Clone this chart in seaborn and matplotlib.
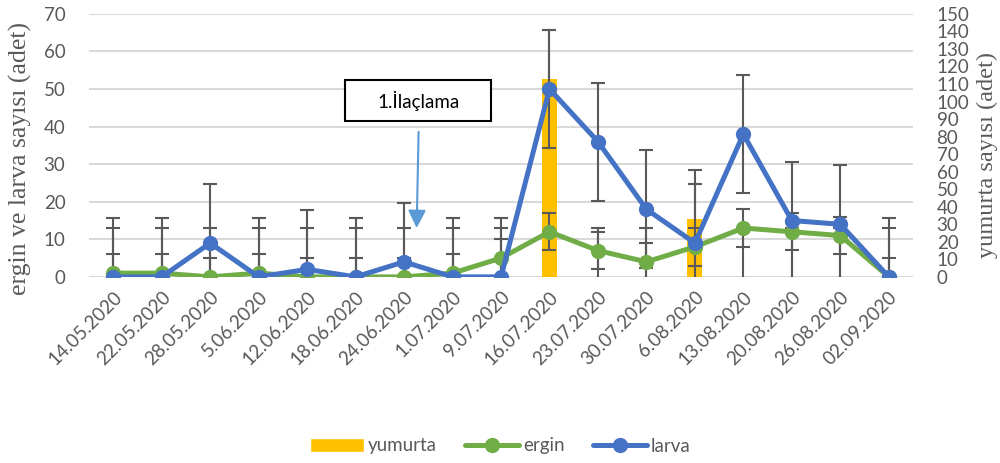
import numpy as np
import pandas as pd
import matplotlib
matplotlib.use("Agg")
import matplotlib.pyplot as plt
from matplotlib.lines import Line2D
from matplotlib.patches import Patch, Rectangle
import seaborn as sns

# Data
dates = ["14.05.2020", "22.05.2020", "28.05.2020", "5.06.2020", "12.06.2020",
         "18.06.2020", "24.06.2020", "1.07.2020", "9.07.2020", "16.07.2020",
         "23.07.2020", "30.07.2020", "6.08.2020", "13.08.2020", "20.08.2020",
         "26.08.2020", "02.09.2020"]
yumurta = [0, 0, 0, 0, 0, 0, 0, 0, 0, 113, 0, 0, 33, 0, 0, 0, 0]
ergin = [1, 1, 0, 1, 0, 0, 0, 1, 5, 12, 7, 4, 8, 13, 12, 11, 0]
larva = [0, 0, 9, 0, 2, 0, 4, 0, 0, 50, 36, 18, 9, 38, 15, 14, 0]

# Colours
GRAY = "#595959"
GRID = "#D9D9D9"
YELLOW = "#FFC000"
GREEN = "#70AD47"
BLUE = "#4472C4"
ARROW = "#5B9BD5"


def main():
    df = pd.DataFrame({"tarih": dates, "yumurta": yumurta,
                       "ergin": ergin, "larva": larva})
    df["pos"] = np.arange(len(df))
    n = len(df)

    # Excel "standard deviation" error bars: one amount per series
    sd = {c: df[c].std() for c in ["yumurta", "ergin", "larva"]}

    sns.set_theme(style="white")
    plt.rcParams["font.family"] = ["Lato", "DejaVu Sans"]

    fig, ax = plt.subplots(figsize=(10, 4.63), dpi=100)
    fig.subplots_adjust(left=0.089, right=0.913, top=0.970, bottom=0.402)

    ax_bar = ax.twinx()    # secondary axis: eggs
    ax_line = ax.twinx()   # on top: adults and larvae (primary scale)

    # --- bars (yumurta) ---
    sns.barplot(data=df, x="pos", y="yumurta", color=YELLOW, width=0.31,
                saturation=1, linewidth=0, errorbar=None, ax=ax_bar)
    eb = ax_bar.errorbar(df["pos"], df["yumurta"],
                         yerr=[np.zeros(n), np.full(n, sd["yumurta"])],
                         fmt="none", ecolor=GRAY, elinewidth=1.5,
                         capsize=4.7, capthick=1.5, zorder=3)
    eb[1][0].set_visible(False)  # plus-only error bar

    # --- lines (ergin, larva) ---
    for col in ["ergin", "larva"]:
        ax_line.errorbar(df["pos"], df[col], yerr=sd[col], fmt="none",
                         ecolor=GRAY, elinewidth=1.5, capsize=4.7,
                         capthick=1.5, zorder=1)
    for col, color in [("ergin", GREEN), ("larva", BLUE)]:
        sns.lineplot(data=df, x="pos", y=col, color=color, lw=3.6,
                     marker="o", markersize=11, markeredgewidth=0,
                     sort=False, ax=ax_line, zorder=3)

    # Axes / limits
    ax.set_xlim(-0.5, n - 0.5)
    ax.set_ylim(0, 70)
    ax_line.set_ylim(0, 70)
    ax_bar.set_ylim(0, 150)
    ax.set_yticks(range(0, 71, 10))
    ax_bar.set_yticks(range(0, 151, 10))
    ax.set_xticks(df["pos"])
    ax.set_xticklabels(dates, rotation=45, ha="right", rotation_mode="anchor")

    ax.grid(axis="y", color=GRID, lw=1.5)
    ax.set_axisbelow(True)
    for a in (ax, ax_bar):
        for s in a.spines.values():
            s.set_visible(False)
    ax_line.set_axis_off()

    ax.tick_params(axis="both", length=0, labelsize=13.5, labelcolor=GRAY)
    ax.tick_params(axis="y", pad=17)
    ax.tick_params(axis="x", pad=8)
    ax_bar.tick_params(axis="y", length=0, labelsize=13.5, labelcolor=GRAY,
                       pad=17)

    ax.set_xlabel("")
    ax_bar.set_xlabel("")
    ax.set_ylabel("ergin ve larva sayısı (adet)", family="Liberation Serif",
                  fontsize=18.5, color=GRAY)
    ax.yaxis.set_label_coords(-0.069, 0.452)
    ax_bar.set_ylabel("yumurta sayısı (adet)", family="Liberation Serif",
                      fontsize=17.5, color=GRAY)
    ax_bar.yaxis.set_label_coords(1.077, 0.464)

    # Annotation: first spraying
    ax_line.add_patch(Rectangle((4.79, 41.5), 3.0, 10.9, facecolor="white",
                                edgecolor="black", lw=1.5, zorder=5))
    ax_line.text(6.29, 46.9, "1.İlaçlama", ha="center", va="center",
                 fontsize=13.5, color="black", zorder=6)
    ax_line.annotate("", xy=(6.26, 13), xytext=(6.3, 38.6),
                     arrowprops=dict(arrowstyle="-|>,head_length=0.54,head_width=0.27",
                                     color=ARROW, lw=1.5, mutation_scale=20,
                                     shrinkA=0, shrinkB=0), zorder=6)

    # Legend
    handles = [
        Patch(facecolor=YELLOW, label="yumurta"),
        Line2D([0], [0], color=GREEN, lw=3.6, marker="o", markersize=11,
               markeredgewidth=0, label="ergin"),
        Line2D([0], [0], color=BLUE, lw=3.6, marker="o", markersize=11,
               markeredgewidth=0, label="larva"),
    ]
    fig.legend(handles=handles, loc="center", bbox_to_anchor=(0.5, 1 - 446 / 463),
               ncol=3, frameon=False, fontsize=13.5, handlelength=2.9,
               handletextpad=0.2, columnspacing=1.5, labelcolor=GRAY)

    fig.savefig("out.png", dpi=100)
    plt.close(fig)


if __name__ == "__main__":
    main()
